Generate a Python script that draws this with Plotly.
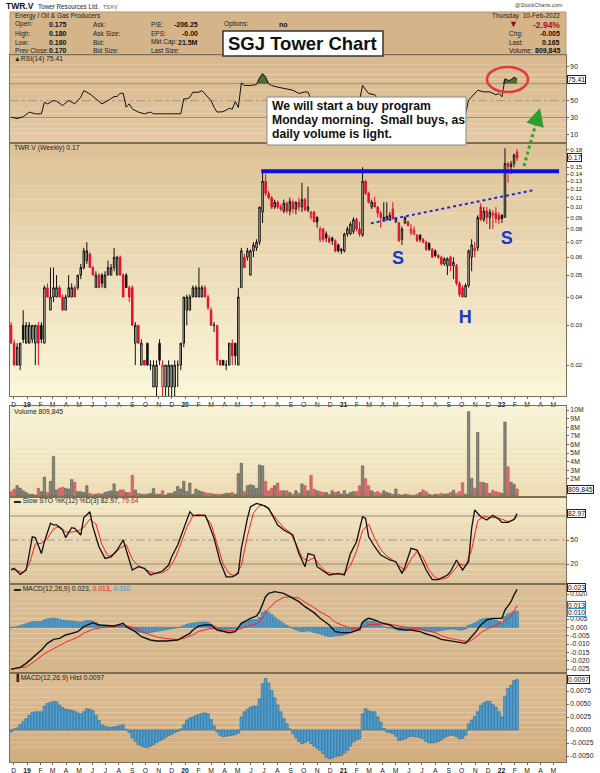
import datetime as dt
import math
import plotly.graph_objects as go

W, H = 600, 773
X0, X1 = 10, 566

# ---------------- data (weekly bars, TWR.V) ----------------
week0 = dt.date(2018, 11, 26)

opens = [
    .030, .025, .020, .020, .030, .025, .025, .026, .025, .030,
    .030, .025, .044, .035, .040, .040, .044, .040, .035, .040,
    .040, .044, .044, .050, .054, .058, .062, .054, .044, .050,
    .050, .044, .050, .050, .054, .050, .060, .050, .050, .044,
    .044, .025, .030, .020, .021, .025, .020, .016, .016, .025,
    .016, .016, .016, .016, .016, .020, .020, .025, .035, .035,
    .040, .040, .040, .040, .044, .040, .035, .030, .030, .021,
    .021, .020, .020, .025, .025, .020, .044, .060, .060, .050,
    .064, .066, .070, .095, .130, .115, .110, .100, .105, .100,
    .096, .104, .096, .105, .098, .105, .100, .108, .097, .090,
    .095, .090, .072, .080, .076, .073, .073, .071, .068, .064,
    .064, .076, .076, .078, .088, .080, .075, .130, .115, .100,
    .105, .100, .094, .088, .088, .088, .098, .086, .085, .072,
    .085, .086, .077, .076, .075, .075, .072, .070, .069, .065,
    .064, .061, .060, .056, .055, .060, .055, .055, .046, .044,
    .040, .045, .060, .064, .066, .100, .088, .096, .090, .092,
    .094, .092, .092, .090, .156, .151, .156, .175]
highs = [
    .031, .026, .025, .025, .035, .031, .031, .030, .030, .031,
    .031, .045, .046, .054, .054, .050, .045, .041, .041, .050,
    .046, .045, .050, .056, .066, .070, .063, .055, .052, .051,
    .051, .052, .058, .056, .066, .061, .061, .051, .051, .045,
    .045, .031, .030, .026, .021, .025, .021, .021, .021, .026,
    .021, .020, .021, .020, .021, .021, .025, .040, .041, .041,
    .045, .045, .054, .045, .045, .041, .036, .031, .030, .021,
    .021, .021, .025, .026, .025, .044, .066, .062, .066, .065,
    .070, .072, .100, .145, .140, .118, .112, .108, .107, .103,
    .108, .106, .110, .108, .106, .110, .128, .110, .123, .096,
    .096, .091, .082, .081, .078, .075, .074, .072, .069, .066,
    .077, .082, .086, .090, .090, .086, .150, .132, .117, .108,
    .111, .101, .096, .105, .105, .095, .105, .090, .086, .082,
    .091, .087, .084, .082, .076, .076, .073, .071, .070, .066,
    .065, .062, .061, .060, .060, .061, .060, .056, .047, .045,
    .046, .065, .072, .070, .092, .104, .100, .100, .098, .097,
    .100, .095, .093, .182, .158, .160, .172, .180]
lows = [
    .025, .020, .020, .019, .025, .025, .025, .025, .020, .020,
    .025, .025, .040, .035, .038, .040, .040, .035, .035, .040,
    .040, .040, .043, .048, .053, .056, .054, .050, .044, .044,
    .044, .044, .050, .050, .052, .050, .050, .040, .044, .038,
    .030, .020, .025, .020, .020, .020, .019, .016, .014, .020,
    .013, .012, .012, .012, .012, .016, .019, .024, .030, .035,
    .040, .040, .040, .040, .040, .035, .030, .028, .020, .020,
    .020, .019, .020, .020, .020, .020, .044, .054, .058, .050,
    .060, .064, .068, .085, .112, .108, .098, .098, .098, .096,
    .094, .094, .092, .094, .093, .096, .095, .096, .095, .088,
    .086, .081, .070, .070, .070, .069, .068, .063, .063, .062,
    .063, .074, .075, .076, .078, .074, .074, .113, .104, .098,
    .100, .090, .081, .086, .087, .087, .088, .085, .070, .068,
    .084, .082, .075, .075, .070, .070, .069, .064, .064, .060,
    .060, .059, .055, .055, .050, .052, .048, .045, .040, .040,
    .040, .044, .052, .060, .064, .087, .086, .084, .080, .080,
    .085, .084, .085, .090, .128, .140, .150, .160]
closes = [
    .025, .020, .024, .025, .026, .030, .030, .030, .030, .025,
    .026, .044, .040, .040, .044, .044, .040, .035, .040, .044,
    .044, .040, .050, .054, .064, .064, .054, .050, .050, .044,
    .046, .050, .054, .054, .060, .060, .050, .040, .044, .040,
    .030, .030, .025, .025, .020, .020, .020, .020, .020, .021,
    .020, .020, .020, .020, .020, .020, .025, .040, .040, .040,
    .044, .044, .044, .044, .040, .036, .030, .030, .021, .020,
    .020, .020, .025, .022, .022, .040, .064, .054, .064, .064,
    .068, .070, .100, .130, .115, .110, .100, .105, .100, .098,
    .104, .096, .106, .098, .105, .100, .108, .097, .100, .095,
    .086, .086, .080, .072, .073, .070, .071, .064, .064, .065,
    .076, .080, .084, .088, .080, .076, .130, .115, .105, .105,
    .100, .094, .090, .090, .091, .092, .089, .089, .071, .080,
    .090, .083, .080, .079, .071, .072, .070, .065, .065, .060,
    .061, .060, .056, .059, .059, .055, .057, .046, .041, .040,
    .045, .064, .068, .066, .090, .088, .096, .090, .095, .094,
    .089, .088, .089, .156, .151, .155, .170, .165]
volume_m = [
    .5, .8, 1.2, .9, .6, .4, .2, .2, .1, .9,
    .5, 2.2, .4, 1.7, 4.6, .7, .9, 1.0, .9, .8,
    1.9, 1.6, .5, .5, .4, 1.2, .3, .2, .2, .3,
    .2, .4, .5, .6, 1.4, .5, .7, .7, .4, .4,
    2.4, .7, .3, .2, .2, .2, .3, .85, .2, .2,
    .6, .1, .3, .3, .5, 1.1, .8, 1.7, .5, 1.5,
    .2, .8, .6, .5, .4, .3, .3, .2, .2, .2,
    .2, .3, .3, .4, .2, 2.6, 3.8, .5, 1.2, 1.3,
    1.2, .9, 3.6, 3.5, 1.7, .6, .9, 1.2, 1.5, .6,
    .6, .6, .4, .2, .6, .3, 1.4, 1.2, .6, 2.4,
    .8, .6, .5, .4, .4, .2, .6, .4, .5, .2,
    .6, .2, .4, .5, .5, 1.2, 3.5, 2.0, 1.2, .6,
    .4, .5, .3, .6, .4, .3, .2, .8, .2, .1,
    .2, .2, .1, .1, .2, .4, .7, .5, .2, .1,
    .2, .2, .3, .2, .25, .4, .66, .3, .5, 1.55,
    .2, 9.8, 2.05, .9, 7.4, 1.6, 1.55, 1.45, .3, .66,
    .5, .4, .3, 8.6, 3.4, 1.6, 1.35, .81]
macd_hist = [
    -.0004, .0002, .0004, .0010, .0016, .0022, .0028, .0034, .0035, .0035,
    .0035, .0046, .0051, .0053, .0055, .0054, .0048, .0043, .0040, .0039,
    .0038, .0036, .0033, .0031, .0035, .0041, .0040, .0037, .0028, .0018,
    .0010, .0007, .0005, .0005, .0006, .0007, .0009, .0010, .0001, -.0005,
    -.0015, -.0022, -.0028, -.0031, -.0033, -.0034, -.0031, -.0028, -.0024, -.0021,
    -.0018, -.0015, -.0011, -.0008, -.0005, -.0003, .0002, .0010, .0019, .0023,
    .0025, .0028, .0030, .0032, .0033, .0031, .0020, .0008, -.0004, -.0010,
    -.0013, -.0012, -.0011, -.0010, -.0009, -.0006, .0025, .0035, .0040, .0044,
    .0046, .0046, .0060, .0089, .0099, .0090, .0076, .0062, .0048, .0035,
    .0022, .0012, .0002, -.0007, -.0015, -.0022, -.0026, -.0024, -.0021, -.0026,
    -.0031, -.0035, -.0039, -.0045, -.0052, -.0055, -.0054, -.0051, -.0050, -.0049,
    -.0044, -.0039, -.0031, -.0023, -.0019, -.0017, .0031, .0041, .0037, .0035,
    .0035, .0025, .0015, .0003, -.0004, -.0005, -.0007, -.0012, -.0020, -.0019,
    -.0017, -.0014, -.0012, -.0013, -.0013, -.0015, -.0017, -.0022, -.0025, -.0025,
    -.0024, -.0022, -.0019, -.0015, -.0012, -.0010, -.0011, -.0013, -.0017, -.0016,
    -.0010, .0012, .0019, .0026, .0035, .0047, .0052, .0055, .0055, .0049,
    .0044, .0035, .0025, .0065, .0080, .0086, .0095, .0097]

rsi_week = [0, 2, 4, 6, 8, 10, 11, 12, 13, 14, 15, 17, 19, 20, 21, 22, 23, 24, 25, 26,
            28, 30, 32, 34, 35, 36, 37, 38, 39, 40, 42, 44, 46, 47, 50, 53, 56, 57, 58, 59,
            60, 62, 63, 64, 66, 67, 68, 70, 72, 73, 74, 75, 76, 77, 79, 81, 82, 83, 84, 85,
            86, 88, 90, 92, 93, 95, 97, 98, 99, 100, 102, 104, 106, 108, 110, 112, 114, 115, 116, 117,
            118, 120, 121, 123, 125, 127, 128, 130, 132, 134, 136, 138, 140, 142, 144, 146, 148, 149, 150, 151,
            152, 154, 156, 158, 160, 161, 162, 163, 164, 165, 166, 167]
rsi = [30.5, 29.0, 31.0, 36.5, 34.5, 34.5, 48.2, 46.3, 48.0, 50.2, 49.4, 44.3, 50.2, 48.0, 46.3, 50.2, 54.1, 61.9, 60.0, 58.0,
       52.2, 46.3, 50.2, 54.9, 54.9, 58.8, 58.8, 42.3, 46.3, 40.4, 36.5, 34.5, 36.5, 34.5, 34.5, 34.5, 34.5, 52.2, 52.2, 54.1,
       60.0, 60.0, 61.9, 58.0, 50.2, 42.3, 36.5, 37.0, 41.0, 40.0, 49.0, 42.0, 71.0, 68.0, 68.0, 69.0, 77.0, 82.0, 78.0, 70.0,
       68.0, 66.0, 64.3, 63.0, 62.4, 58.5, 60.4, 60.0, 52.0, 48.0, 42.0, 38.0, 35.0, 33.0, 38.0, 44.0, 47.0, 50.0, 68.0, 63.0,
       58.5, 57.0, 52.0, 49.0, 48.0, 46.0, 39.0, 44.0, 43.0, 40.0, 38.0, 36.0, 34.0, 33.0, 35.0, 36.0, 31.0, 30.5, 35.0, 50.6,
       55.0, 62.4, 60.4, 60.4, 57.0, 58.5, 54.6, 76.0, 74.0, 74.5, 78.0, 75.41]

sto_k_week = [0, 1, 3, 5, 6, 7, 8, 10, 11, 13, 14, 15, 17, 18, 20, 21, 23, 24, 26, 27,
              29, 31, 33, 35, 37, 38, 40, 42, 44, 46, 48, 50, 52, 53, 55, 57, 59, 60, 62, 64,
              65, 67, 69, 71, 73, 75, 76, 78, 79, 81, 83, 85, 88, 90, 93, 95, 97, 98, 100, 101,
              103, 105, 108, 110, 112, 114, 116, 117, 118, 120, 122, 125, 127, 129, 130, 132, 134, 135, 137, 139,
              141, 144, 145, 147, 149, 151, 152, 153, 155, 157, 159, 161, 162, 164, 166, 167]
sto_k = [12.5, 14.6, 7.0, 12.5, 33.0, 54.0, 53.0, 33.0, 47.9, 71.0, 68.8, 68.8, 62.5, 53.0, 65.4, 64.6, 56.2, 78.0, 85.4, 66.6,
         41.6, 27.0, 29.0, 37.5, 50.0, 37.5, 12.5, 16.6, 14.6, 6.2, 8.3, 11.2, 18.7, 29.0, 43.7, 64.6, 85.4, 81.0, 80.4, 81.0,
         72.9, 52.0, 22.9, 4.0, 4.0, 8.3, 39.6, 77.0, 91.6, 95.8, 93.7, 89.6, 68.8, 62.5, 56.2, 33.0, 16.6, 33.0, 31.0, 16.6,
         11.2, 6.2, 8.3, 6.2, 33.0, 47.9, 79.0, 77.0, 54.0, 41.6, 31.2, 25.0, 22.9, 8.3, 16.6, 39.6, 37.5, 29.0, 12.5, 0.5,
         0.5, 6.2, 10.4, 25.0, 12.5, 22.9, 64.6, 87.5, 79.0, 75.0, 81.0, 76.0, 72.0, 72.0, 76.0, 82.97]
sto_d_week = [0, 2, 4, 6, 8, 10, 12, 14, 16, 18, 20, 22, 24, 26, 28, 30, 32, 34, 36, 38,
              40, 42, 44, 46, 48, 50, 52, 54, 56, 58, 60, 62, 64, 66, 68, 70, 72, 74, 76, 78,
              80, 82, 84, 86, 88, 90, 92, 94, 96, 98, 100, 102, 104, 106, 108, 110, 112, 114, 116, 118,
              120, 122, 124, 126, 128, 130, 132, 134, 136, 138, 140, 142, 144, 146, 148, 150, 152, 154, 156, 158,
              160, 162, 164, 166, 167]
sto_d = [14, 12, 9, 20, 45, 46, 52, 64, 67, 60, 60, 61, 66, 76, 70, 44, 30, 32, 40, 44,
         26, 18, 14, 10, 8, 9, 14, 26, 45, 66, 80, 82, 80, 70, 45, 20, 8, 5, 18, 55,
         84, 93, 93, 84, 74, 65, 60, 46, 28, 24, 28, 18, 10, 8, 7, 8, 18, 36, 62, 70,
         52, 38, 30, 25, 18, 12, 26, 36, 28, 12, 3, 1, 3, 12, 20, 18, 38, 74, 80, 78,
         78, 76, 73, 75, 79.64]

macd_week = [0, 3, 5, 7, 8, 10, 12, 14, 16, 18, 20, 22, 24, 27, 29, 32, 34, 37, 38, 41,
             43, 46, 48, 51, 53, 55, 57, 59, 60, 62, 64, 66, 68, 70, 72, 74, 76, 78, 79, 81,
             82, 84, 85, 87, 90, 92, 95, 97, 100, 102, 105, 107, 109, 112, 114, 115, 116, 117, 118, 120,
             122, 125, 127, 130, 132, 135, 137, 140, 142, 145, 147, 150, 151, 153, 155, 157, 159, 162, 163, 165,
             166, 167]
macd = [-.0252, -.0240, -.0216, -.0186, -.0166, -.0136, -.0096, -.0072, -.0066, -.0046,
        -.0036, -.0026, .0004, .0028, .0014, .0008, .0008, .0024, .0004, -.0026,
        -.0056, -.0076, -.0082, -.0082, -.0080, -.0076, -.0056, -.0036, -.0016, .0008,
        .0014, .0014, -.0016, -.0026, -.0032, -.0026, .0024, .0044, .0054, .0068,
        .0094, .0184, .0204, .0214, .0204, .0184, .0154, .0124, .0088, .0054,
        .0014, -.0026, -.0032, -.0032, -.0020, -.0012, .0030, .0046, .0054, .0044,
        .0028, .0014, -.0006, -.0016, -.0016, -.0026, -.0040, -.0056, -.0072, -.0080,
        -.0086, -.0096, -.0076, -.0036, .0014, .0044, .0054, .0054, .0104, .0154,
        .0195, .0228]
signal_week = [0, 5, 8, 10, 12, 14, 16, 18, 20, 22, 24, 27, 29, 32, 34, 37, 38, 41, 43, 46,
               48, 51, 53, 55, 57, 59, 60, 62, 64, 66, 68, 70, 72, 74, 76, 78, 81, 82, 84, 85,
               87, 90, 92, 95, 97, 100, 102, 105, 107, 109, 112, 114, 116, 118, 120, 122, 125, 127, 130, 135,
               137, 140, 142, 145, 147, 150, 151, 153, 155, 157, 159, 162, 163, 165, 167]
signal = [-.0248, -.0238, -.0201, -.0171, -.0147, -.0127, -.0110, -.0090, -.0074, -.0059,
          -.0035, -.0012, -.0004, .0003, .0004, .0012, .0010, -.0004, -.0025, -.0045,
          -.0058, -.0067, -.0072, -.0073, -.0066, -.0055, -.0045, -.0024, -.0017, -.0006,
          -.0008, -.0013, -.0020, -.0018, -.0004, .0006, .0022, .0034, .0085, .0112,
          .0150, .0180, .0182, .0176, .0150, .0119, .0093, .0062, .0030, .0017,
          -.0006, -.0008, -.0001, .0015, .0018, .0020, .0019, .0010, .0001, -.0011,
          -.0018, -.0032, -.0050, -.0068, -.0073, -.0085, -.0088, -.0064, -.0033, -.0011,
          .0005, .0029, .0040, .0068, .0131]

month_ticks = ['2018-12-02', '2019-01-02', '2019-02-02', '2019-03-02', '2019-04-02', '2019-05-02',
               '2019-06-02', '2019-07-02', '2019-08-02', '2019-09-02', '2019-10-02', '2019-11-02',
               '2019-12-02', '2020-01-02', '2020-02-02', '2020-03-02', '2020-04-02', '2020-05-02',
               '2020-06-02', '2020-07-02', '2020-08-02', '2020-09-02', '2020-10-02', '2020-11-02',
               '2020-12-02', '2021-01-02', '2021-02-02', '2021-03-02', '2021-04-02', '2021-05-02',
               '2021-06-02', '2021-07-02', '2021-08-02', '2021-09-02', '2021-10-02', '2021-11-02',
               '2021-12-02', '2022-01-02', '2022-02-02', '2022-03-02', '2022-04-02', '2022-05-02']
month_labels = ['D', '<b>19</b>', 'F', 'M', 'A', 'M', 'J', 'J', 'A', 'S', 'O', 'N',
                'D', '<b>20</b>', 'F', 'M', 'A', 'M', 'J', 'J', 'A', 'S', 'O', 'N',
                'D', '<b>21</b>', 'F', 'M', 'A', 'M', 'J', 'J', 'A', 'S', 'O', 'N',
                'D', '<b>22</b>', 'F', 'M', 'A', 'M']
# tick values; labels hidden behind the value boxes are left blank, as in the reference
rsi_ticks = [10, 30, 50, 70, 90]
rsi_labels = ['10', '30', '50', '', '90']
price_ticks = [0.02, 0.03, 0.04, 0.05, 0.06, 0.07, 0.08, 0.09, 0.10, 0.11, 0.12, 0.13,
               0.14, 0.15, 0.16, 0.18]
price_labels = ['0.02', '0.03', '0.04', '0.05', '0.06', '0.07', '0.08', '0.09', '0.10', '0.11',
                '0.12', '0.13', '0.14', '0.15', '', '0.18']
volume_ticks = [2, 3, 4, 5, 6, 7, 8, 9, 10]
volume_labels = ['2M', '3M', '4M', '5M', '6M', '7M', '8M', '9M', '10M']
sto_ticks = [20, 50, 80]
sto_labels = ['20', '50', '']
macd_ticks = [-0.025, -0.020, -0.015, -0.010, -0.005, 0.0, 0.005, 0.010, 0.015, 0.020]
macd_labels = ['-0.025', '-0.020', '-0.015', '-0.010', '-0.005', '0.000', '0.005', '', '', '0.020']
hist_ticks = [-0.005, -0.0025, 0.0, 0.0025, 0.005, 0.0075]
hist_labels = ['-0.0050', '-0.0025', '0.0000', '0.0025', '0.0050', '0.0075']

resistance_dates = ['2020-06-26', '2022-05-15']
resistance_prices = [0.144, 0.144]
neckline_dates = ['2021-03-06', '2022-03-18']
neckline_prices = [0.0847, 0.1189]
pattern_dates = ['2021-05-08', '2021-10-10', '2022-01-14']
pattern_prices = [0.0589, 0.0323, 0.0722]
pattern_text = ['S', 'H', 'S']

for arr in (opens, highs, lows, closes, volume_m, macd_hist):
    assert len(arr) == 168, len(arr)
assert len(rsi_week) == len(rsi)
assert len(sto_k_week) == len(sto_k)
assert len(sto_d_week) == len(sto_d)
assert len(macd_week) == len(macd)
assert len(signal_week) == len(signal)

weeks = [week0 + dt.timedelta(days=7 * i) for i in range(len(closes))]

# ---------------- geometry ----------------
PANELS = {'rsi': (55, 143), 'price': (143, 396), 'vol': (406, 497),
          'sto': (497, 584), 'macd': (584, 673), 'hist': (673, 762)}
ORDER = ['rsi', 'price', 'vol', 'sto', 'macd', 'hist']
GRAD = {'rsi': ('#d8b88d', '#e3caa3'), 'price': ('#dcc197', '#fbf7da'),
        'vol': ('#f8f4d8', '#ecdcb3'), 'sto': ('#f4ebc8', '#dcc39b'),
        'macd': ('#dbbf97', '#d6b58a'), 'hist': ('#dcbe95', '#d2ac7f')}
FONT = 'Liberation Sans, Arial, sans-serif'
AXC = '#7d6e58'
TICKSIZE = 6.8


def fx(p):
    return p / W


def fy(p):
    return 1 - p / H


def mix(c1, c2, t):
    a = [int(c1[i:i + 2], 16) for i in (1, 3, 5)]
    b = [int(c2[i:i + 2], 16) for i in (1, 3, 5)]
    return 'rgb(%d,%d,%d)' % tuple(round(a[k] + (b[k] - a[k]) * t) for k in range(3))


def ref(k):
    return ('x' if k == 1 else 'x%d' % k), ('y' if k == 1 else 'y%d' % k)


AX = {name: ref(i + 1) for i, name in enumerate(ORDER)}
WEEK_MS = 7 * 24 * 3600 * 1000

fig = go.Figure()

# ---------------- RSI ----------------
xr, yr = AX['rsi']
rx = [weeks[i] for i in rsi_week]
fig.add_trace(go.Scatter(x=rx, y=[70] * len(rx), mode='lines', line=dict(width=0),
                         xaxis=xr, yaxis=yr, hoverinfo='skip'))
fig.add_trace(go.Scatter(x=rx, y=[max(v, 70) for v in rsi], mode='lines', line=dict(width=0),
                         fill='tonexty', fillcolor='#566b34', xaxis=xr, yaxis=yr, hoverinfo='skip'))
fig.add_trace(go.Scatter(x=rx, y=[30] * len(rx), mode='lines', line=dict(width=0),
                         xaxis=xr, yaxis=yr, hoverinfo='skip'))
fig.add_trace(go.Scatter(x=rx, y=[min(v, 30) for v in rsi], mode='lines', line=dict(width=0),
                         fill='tonexty', fillcolor='#9c4a44', xaxis=xr, yaxis=yr, hoverinfo='skip'))
fig.add_trace(go.Scatter(x=rx, y=rsi, mode='lines', line=dict(color='#111', width=1),
                         xaxis=xr, yaxis=yr, hoverinfo='skip'))

# ---------------- price candles ----------------
xr, yr = AX['price']
red = [i == 0 or closes[i] < closes[i - 1] for i in range(len(closes))]
for is_red, col in ((False, '#111111'), (True, '#e0102c')):
    idx = [i for i in range(len(closes)) if red[i] == is_red]
    fig.add_trace(go.Candlestick(
        x=[weeks[i] for i in idx], open=[opens[i] for i in idx], high=[highs[i] for i in idx],
        low=[lows[i] for i in idx], close=[closes[i] for i in idx],
        increasing=dict(line=dict(color=col, width=1), fillcolor='rgba(255,255,255,0.25)'),
        decreasing=dict(line=dict(color=col, width=1), fillcolor=col),
        whiskerwidth=0, xaxis=xr, yaxis=yr, hoverinfo='skip'))
fig.add_trace(go.Scatter(x=resistance_dates, y=resistance_prices, mode='lines',
                         line=dict(color='#0a10e8', width=4), xaxis=xr, yaxis=yr, hoverinfo='skip'))
fig.add_trace(go.Scatter(x=neckline_dates, y=neckline_prices, mode='lines',
                         line=dict(color='#2626d6', width=2, dash='dot'), xaxis=xr, yaxis=yr, hoverinfo='skip'))
fig.add_trace(go.Scatter(x=pattern_dates, y=pattern_prices, mode='text', text=pattern_text,
                         textfont=dict(family=FONT, size=18, color='#1838d4'),
                         xaxis=xr, yaxis=yr, hoverinfo='skip', texttemplate='<b>%{text}</b>'))

# ---------------- volume ----------------
xr, yr = AX['vol']
fig.add_trace(go.Bar(x=weeks, y=volume_m, width=WEEK_MS * 0.78,
                     marker=dict(color=['#e06a6e' if r else '#86867c' for r in red],
                                 line=dict(color=['#c44a50' if r else '#55554c' for r in red], width=0.6)),
                     xaxis=xr, yaxis=yr, hoverinfo='skip'))

# ---------------- slow stochastics ----------------
xr, yr = AX['sto']
fig.add_trace(go.Scatter(x=[weeks[i] for i in sto_d_week], y=sto_d, mode='lines',
                         line=dict(color='#ff2020', width=1), xaxis=xr, yaxis=yr, hoverinfo='skip'))
fig.add_trace(go.Scatter(x=[weeks[i] for i in sto_k_week], y=sto_k, mode='lines',
                         line=dict(color='#111', width=1.3), xaxis=xr, yaxis=yr, hoverinfo='skip'))

# ---------------- MACD ----------------
xr, yr = AX['macd']
fig.add_trace(go.Bar(x=weeks, y=macd_hist, width=WEEK_MS * 0.9,
                     marker=dict(color='#4f9fd0', line=dict(color='#2a6c9c', width=0.5)),
                     xaxis=xr, yaxis=yr, hoverinfo='skip'))
fig.add_trace(go.Scatter(x=[weeks[i] for i in signal_week], y=signal, mode='lines',
                         line=dict(color='#ff2020', width=1), xaxis=xr, yaxis=yr, hoverinfo='skip'))
fig.add_trace(go.Scatter(x=[weeks[i] for i in macd_week], y=macd, mode='lines',
                         line=dict(color='#111', width=1.4), xaxis=xr, yaxis=yr, hoverinfo='skip'))

# ---------------- MACD histogram ----------------
xr, yr = AX['hist']
fig.add_trace(go.Bar(x=weeks, y=macd_hist, width=WEEK_MS * 0.9,
                     marker=dict(color='#4f9fd0', line=dict(color='#2a6c9c', width=0.6)),
                     xaxis=xr, yaxis=yr, hoverinfo='skip'))

# ---------------- axes ----------------
layout = dict(width=W, height=H, margin=dict(l=0, r=0, t=0, b=0), autosize=False,
              paper_bgcolor='white', plot_bgcolor='rgba(0,0,0,0)', showlegend=False,
              hovermode=False, bargap=0, barmode='overlay',
              font=dict(family=FONT, size=8, color='#222'))
yspec = {
    'rsi': dict(range=[0, 104], tickvals=rsi_ticks, ticktext=rsi_labels),
    'price': dict(type='log', range=[math.log10(0.0146), math.log10(0.192)],
                  tickvals=price_ticks, ticktext=price_labels,
                  tickfont=dict(size=6.2, color='#222', family=FONT)),
    'vol': dict(range=[-0.12, 10.47], tickvals=volume_ticks, ticktext=volume_labels),
    'sto': dict(range=[-5, 103.75], tickvals=sto_ticks, ticktext=sto_labels),
    'macd': dict(range=[-0.0274, 0.026], tickvals=macd_ticks, ticktext=macd_labels),
    'hist': dict(range=[-0.00615, 0.01096], tickvals=hist_ticks, ticktext=hist_labels),
}
for k, name in enumerate(ORDER, start=1):
    top, bot = PANELS[name]
    xr, yr = AX[name]
    xa = 'xaxis' if k == 1 else 'xaxis%d' % k
    ya = 'yaxis' if k == 1 else 'yaxis%d' % k
    xd = dict(domain=[fx(X0), fx(X1)], anchor=yr, type='date', showgrid=False, zeroline=False,
              showline=True, mirror=True, linecolor=AXC, linewidth=1, showticklabels=False,
              ticks='', rangeslider=dict(visible=False), fixedrange=True)
    if k == 1:
        xd['range'] = ['2018-11-23 12:00', '2022-05-31']
    else:
        xd['matches'] = 'x'
    if name in ('price', 'hist'):
        xd.update(showticklabels=True, ticks='outside', ticklen=2, tickcolor='#666',
                  tickvals=month_ticks, ticktext=month_labels,
                  tickfont=dict(size=TICKSIZE, color='#222', family=FONT))
    layout[xa] = xd
    yd = dict(domain=[fy(bot), fy(top)], anchor=xr, side='right', showgrid=False, zeroline=False,
              showline=True, mirror=True, linecolor=AXC, linewidth=1, ticks='outside', ticklen=2,
              tickcolor='#666', tickfont=dict(size=TICKSIZE, color='#222', family=FONT), fixedrange=True)
    yd.update(yspec[name])
    layout[ya] = yd

# ---------------- shapes ----------------
shapes = []
NB = 18
for name in ORDER:
    top, bot = PANELS[name]
    c1, c2 = GRAD[name]
    for b in range(NB):
        y0 = top + (bot - top) * b / NB
        y1 = top + (bot - top) * (b + 1) / NB
        shapes.append(dict(type='rect', xref='paper', yref='paper', x0=fx(X0), x1=fx(X1),
                           y0=fy(y1), y1=fy(y0), fillcolor=mix(c1, c2, (b + 0.5) / NB),
                           line=dict(width=0), layer='below'))
# reference levels
for name, levels in (('rsi', (70, 30)), ('sto', (80, 20))):
    yr = AX[name][1]
    for lv in levels:
        shapes.append(dict(type='line', xref='paper', yref=yr, x0=fx(X0), x1=fx(X1), y0=lv, y1=lv,
                           line=dict(color='#9c8a6c', width=1), layer='below'))
    shapes.append(dict(type='line', xref='paper', yref=yr, x0=fx(X0), x1=fx(X1), y0=50, y1=50,
                       line=dict(color='#a8967a', width=1, dash='dashdot'), layer='below'))
# header info box
shapes.append(dict(type='rect', xref='paper', yref='paper', x0=fx(10), x1=fx(566), y0=fy(55), y1=fy(12),
                   fillcolor='#d5b48a', line=dict(color='#b89870', width=1), layer='below'))
# SGJ title box
shapes.append(dict(type='rect', xref='paper', yref='paper', x0=fx(223), x1=fx(383), y0=fy(56), y1=fy(31),
                   fillcolor='white', line=dict(color='#333', width=1.5), layer='above'))
# comment box in RSI panel
shapes.append(dict(type='rect', xref='paper', yref='paper', x0=fx(267), x1=fx(466), y0=fy(145), y1=fy(97),
                   fillcolor='white', line=dict(color='#888', width=1), layer='above'))
# red ellipse
shapes.append(dict(type='circle', xref='paper', yref='paper', x0=fx(487), x1=fx(528), y0=fy(92), y1=fy(67),
                   line=dict(color='#e23a3a', width=2.5), layer='above'))
# green dotted arrow shaft
shapes.append(dict(type='line', xref='paper', yref='paper', x0=fx(524), y0=fy(166), x1=fx(538), y1=fy(116),
                   line=dict(color='#2f9e2f', width=3, dash='dot'), layer='above'))
layout['shapes'] = shapes

# ---------------- annotations ----------------
ann = []


def txt(x, y, s, size=7.0, color='#222', anchor='left', bold=False, **kw):
    d = dict(xref='paper', yref='paper', x=fx(x), y=fy(y), text=('<b>%s</b>' % s) if bold else s,
             showarrow=False, xanchor=anchor, yanchor='middle',
             font=dict(family=FONT, size=size, color=color))
    d.update(kw)
    ann.append(d)


# header
txt(4, 6, 'TWR.V', size=8.5, bold=True, color='#111')
txt(36, 6.5, 'Tower Resources Ltd.', size=6.3, color='#222')
txt(101, 6.5, 'TSXV', size=5.5, color='#555')
txt(565, 5, '@StockCharts.com', size=5.5, color='#444', anchor='right')
txt(13, 16, 'Energy / Oil & Gas Producers', size=6.5, color='#222')
rows = [24.3, 33.5, 42.3, 51]
for y, lab, val in zip(rows, ['Open:', 'High:', 'Low:', 'Prev Close:'], ['0.175', '0.180', '0.160', '0.170']):
    txt(13, y, lab, size=6.5)
    txt(69, y, val, size=7, bold=True, anchor='right', color='#111')
for y, lab in zip(rows, ['Ask:', 'Ask Size:', 'Bid:', 'Bid Size:']):
    txt(91, y, lab, size=6.5)
for y, lab, val in zip(rows, ['P/E:', 'EPS:', 'Mkt Cap:', 'Last Size:'], ['-206.25', '-0.00', '21.5M', '']):
    txt(149, y, lab, size=6.5)
    if val:
        txt(200, y, val, size=7, bold=True, anchor='right', color='#111')
txt(222, 24.3, 'Options:', size=6.5)
txt(277, 24.3, 'no', size=7, bold=True, color='#111')
txt(562, 16, 'Thursday\u00a0\u00a010-Feb-2022', size=6.5, anchor='right')
txt(562, 25, '-2.94%', size=8.5, bold=True, anchor='right', color='#a8102e')
txt(513, 24.5, '\u25bc', size=9, anchor='center', color='#8a0a28')
for y, lab, val in zip(rows[1:], ['Chg:', 'Last:', 'Volume:'], ['-0.005', '0.165', '809,845']):
    txt(507, y, lab, size=6.5)
    txt(562, y, val, size=7, bold=True, anchor='right', color='#111')
# SGJ title
txt(302, 43.5, 'SGJ Tower Chart', size=18.5, bold=True, anchor='center', color='#111')
# comment text
for y, line in zip([106, 120, 134], ['We will start a buy program',
                                     'Monday morning.\u00a0 Small buys, as',
                                     'daily volume is light.']):
    txt(270, y, line, size=12.2, bold=True, color='#111')

# panel titles
txt(12, 59, '\u25b2RSI(14) 75.41', size=6.8)
txt(12, 148, 'TWR.V (Weekly) 0.17', size=6.8)
txt(12, 411, 'Volume 809,845', size=6.8)
txt(12, 501, '\u25ac Slow STO %K(12) %D(3) 82.97, <span style="color:#e02020">79.64</span>', size=6.8)
txt(12, 589, '\u25ac MACD(12,26,9) 0.023, <span style="color:#e02020">0.013</span>, '
             '<span style="color:#3090d0">0.010</span>', size=6.8)
txt(12, 678, '\u2590 MACD(12,26,9) Hist 0.0097', size=6.8)


def vbox(yref, y, s, border='#222'):
    ann.append(dict(xref='paper', yref=yref, x=fx(567), y=y, text=s, showarrow=False,
                    xanchor='left', yanchor='middle', font=dict(family=FONT, size=6.8, color='#111'),
                    bgcolor='white', bordercolor=border, borderwidth=1, borderpad=0))


vbox(AX['rsi'][1], 75.41, '75.41')
vbox(AX['price'][1], math.log10(0.165), '0.17')
vbox(AX['vol'][1], 0.81, '809,845')
vbox(AX['sto'][1], 82.97, '82.97')
vbox(AX['macd'][1], 0.0239, '0.023')
vbox(AX['macd'][1], 0.013, '0.013', border='#e02020')
vbox(AX['macd'][1], 0.0092, '0.010', border='#3090d0')
vbox(AX['hist'][1], 0.0097, '0.0097')

# arrowhead of the green arrow
ann.append(dict(xref='paper', yref='paper', x=fx(540), y=fy(108), ax=-4, ay=14, text='',
                showarrow=True, arrowhead=2, arrowsize=1.2, arrowwidth=3, arrowcolor='#2f9e2f'))
layout['annotations'] = ann

fig.update_layout(**layout)
fig.write_html('out.html', config={'displayModeBar': False, 'staticPlot': True},
               post_script="document.body.style.margin='0';document.body.style.overflow='hidden';")
